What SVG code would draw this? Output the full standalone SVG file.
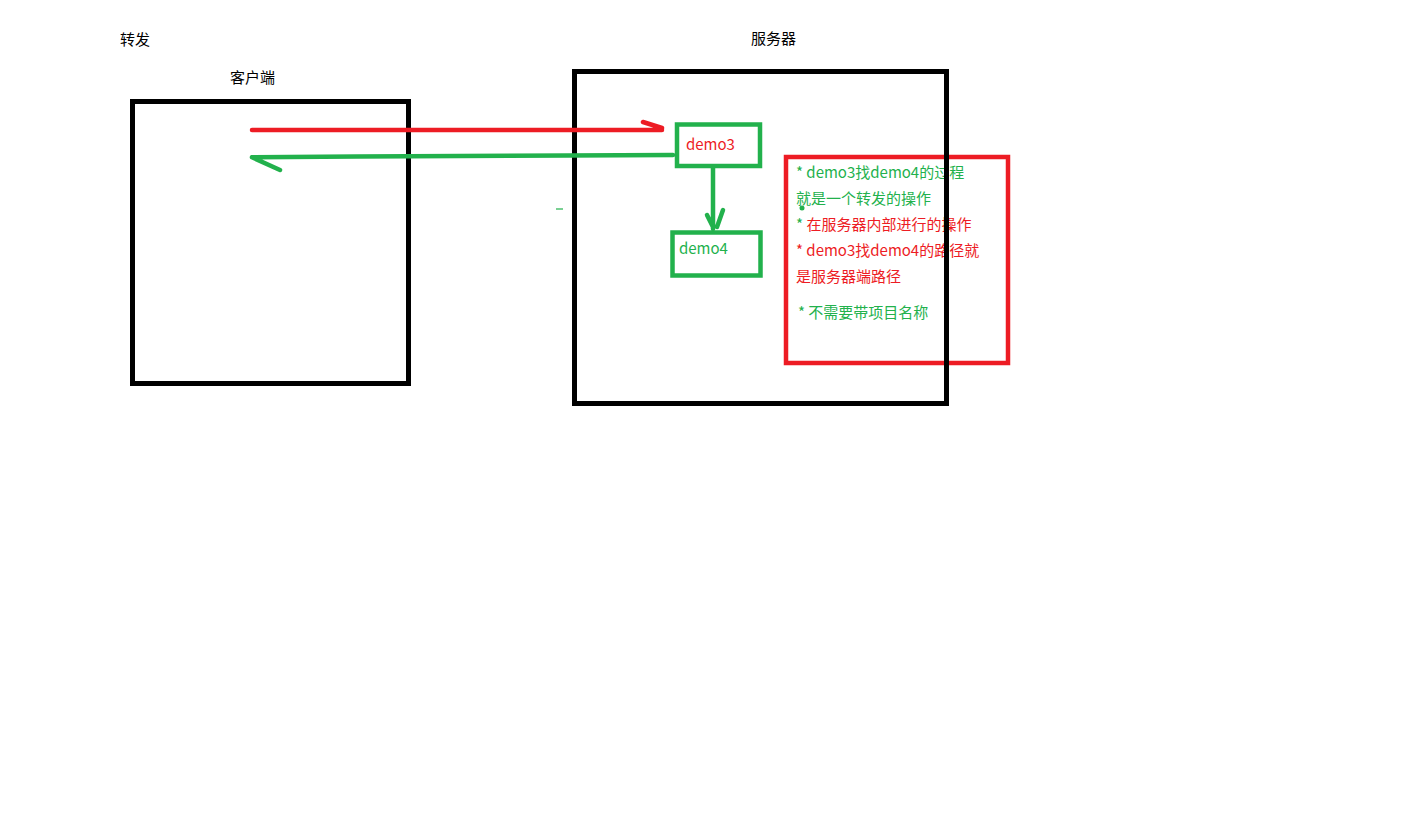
<svg xmlns="http://www.w3.org/2000/svg" width="1412" height="819" viewBox="0 0 1412 819">
<style>
text{font-family:"Microsoft YaHei","Noto Sans CJK SC","Noto Sans",sans-serif;font-size:15px}
.lbl{fill:#000}
.g{fill:#22b14c}
.r{fill:#ed1c24}
.box{fill:none;stroke:#000;stroke-width:5}
.gbox{fill:none;stroke:#22b14c;stroke-width:4.5}
.gl{fill:none;stroke:#22b14c;stroke-width:4.5;stroke-linecap:round;stroke-linejoin:round}
.rl{fill:none;stroke:#ed1c24;stroke-width:4.5;stroke-linecap:round;stroke-linejoin:round}
</style>
<rect width="1412" height="819" fill="#fff"/>
<text class="lbl" x="120" y="45">转发</text>
<text class="lbl" x="230" y="83">客户端</text>
<text class="lbl" x="751" y="44">服务器</text>
<g id="note">
<rect x="786" y="157" width="222" height="206" fill="none" stroke="#ed1c24" stroke-width="4.5"/>
<text x="796" y="178" class="g">* demo3找demo4的过程</text>
<text x="796" y="204" class="g">就是一个转发的操作</text>
<circle cx="802" cy="208" r="2.5" fill="#22b14c"/>
<text x="796" y="230"><tspan class="g">* </tspan><tspan class="r">在服务器内部进行的操作</tspan></text>
<text x="796" y="256" class="r">* demo3找demo4的路径就</text>
<text x="796" y="282" class="r">是服务器端路径</text>
<text x="798" y="318" class="g">* 不需要带项目名称</text>
</g>
<g id="client">
<rect class="box" x="132.5" y="101.5" width="276" height="282"/>
</g>
<g id="server">
<rect class="box" x="574.5" y="71.5" width="372" height="332"/>
</g>
<g id="demo3">
<rect class="gbox" x="677" y="124.5" width="83" height="41.5"/>
<text x="686" y="150" class="r">demo3</text>
</g>
<g id="demo4">
<rect class="gbox" x="672.5" y="232.5" width="88" height="43"/>
<text x="679" y="254" class="g">demo4</text>
</g>
<g id="connectors">
<path class="rl" d="M252 130 L662 130 M643 122 L662 128"/>
<path class="gl" d="M673 155 L567 155.5 L357 156.5 L252 157.3 M252 157.3 L280 170"/>
<path class="gl" d="M713 168 L713 229 M707 215 L713 227 M723 210 L717 227"/>
<line x1="556" y1="209" x2="563" y2="209" stroke="#22b14c" stroke-width="1.2"/>
</g>
</svg>
